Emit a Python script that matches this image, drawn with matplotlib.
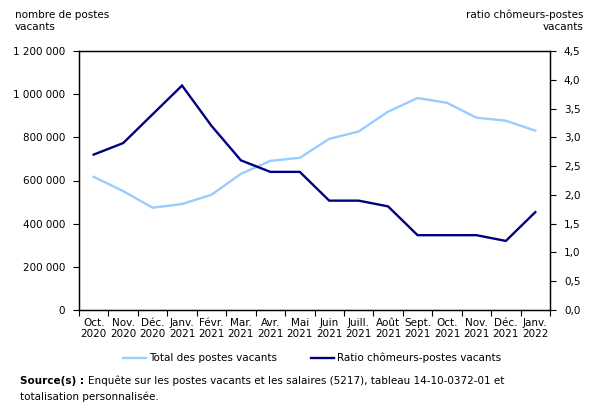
import matplotlib
matplotlib.use("Agg")
import matplotlib.pyplot as plt
from matplotlib.ticker import FixedLocator, FuncFormatter
from matplotlib.lines import Line2D

months = ["Oct.\n2020", "Nov.\n2020", "Déc.\n2020", "Janv.\n2021", "Févr.\n2021", "Mar.\n2021",
          "Avr.\n2021", "Mai\n2021", "Juin\n2021", "Juill.\n2021", "Août\n2021", "Sept.\n2021",
          "Oct.\n2021", "Nov.\n2021", "Déc.\n2021", "Janv.\n2022"]
total_vacancies = [617000, 551000, 474000, 491000, 534000, 631000, 691000, 705000,
                   793000, 827000, 919000, 982000, 960000, 891000, 877000, 831000]
ratio = [2.7, 2.9, 3.4, 3.9, 3.2, 2.6, 2.4, 2.4, 1.9, 1.9, 1.8, 1.3, 1.3, 1.3, 1.2, 1.7]
left_ticks = [0, 200000, 400000, 600000, 800000, 1000000, 1200000]
right_ticks = [0.0, 0.5, 1.0, 1.5, 2.0, 2.5, 3.0, 3.5, 4.0, 4.5]

light = "#99ccff"
dark = "#000080"
fs = 7.5

plt.rcParams['font.family'] = ['DejaVu Sans']
fig = plt.figure(figsize=(5.89, 4.12), dpi=100)
ax = fig.add_axes([79/589, 1-310/412, (550-79)/589, (310-51)/412])
ax2 = ax.twinx()

x = list(range(len(months)))
ax.plot(x, total_vacancies, color=light, lw=1.7, solid_joinstyle='miter')
ax2.plot(x, ratio, color=dark, lw=1.7, solid_joinstyle='miter')

ax.set_xlim(-0.5, len(months) - 0.5)
ax.set_ylim(0, 1200000)
ax2.set_ylim(0, 4.5)
ax.set_yticks(left_ticks)
ax.yaxis.set_major_formatter(FuncFormatter(lambda v, p: f"{int(v):,}".replace(",", " ")))
ax2.set_yticks(right_ticks)
ax2.yaxis.set_major_formatter(FuncFormatter(lambda v, p: f"{v:.1f}".replace(".", ",")))

ax.set_xticks(x)
ax.set_xticklabels(months, fontsize=fs, linespacing=1.1)
ax.tick_params(axis='x', which='major', length=0, pad=6)
ax.xaxis.set_minor_locator(FixedLocator([i - 0.5 for i in range(len(months) + 1)]))
ax.tick_params(axis='x', which='minor', length=4, width=0.8, direction='out')
ax.tick_params(axis='y', labelsize=fs, length=4, width=0.8, pad=6)
ax2.tick_params(axis='y', labelsize=fs, length=4, width=0.8, pad=6)

for a in (ax, ax2):
    for s in a.spines.values():
        s.set_color('black')
        s.set_linewidth(0.9)

fig.text(15/589, 1-10/412, "nombre de postes\nvacants", fontsize=fs, ha='left', va='top', linespacing=1.25)
fig.text(584/589, 1-10/412, "ratio chômeurs-postes\nvacants", fontsize=fs, ha='right', va='top', linespacing=1.25)

handles = [Line2D([0], [0], color=light, lw=1.7), Line2D([0], [0], color=dark, lw=1.7)]
fig.legend(handles, ["Total des postes vacants", "Ratio chômeurs-postes vacants"],
           loc='center', bbox_to_anchor=(312/589, 1-358/412), ncol=2, frameon=False,
           fontsize=fs, handlelength=2.2, handletextpad=0.3, columnspacing=3.2)

t1 = fig.text(20/589, 1-381/412, "Source(s) :", fontsize=fs, fontweight='bold', ha='left', va='center')
fig.canvas.draw()
bb = t1.get_window_extent(renderer=fig.canvas.get_renderer())
fig.text((bb.x1 + 4) / (5.89 * 100), 1-381/412,
         "Enquête sur les postes vacants et les salaires (5217), tableau 14-10-0372-01 et",
         fontsize=fs, ha='left', va='center')
fig.text(20/589, 1-397/412, "totalisation personnalisée.", fontsize=fs, ha='left', va='center')

fig.savefig("out.png", dpi=100)
